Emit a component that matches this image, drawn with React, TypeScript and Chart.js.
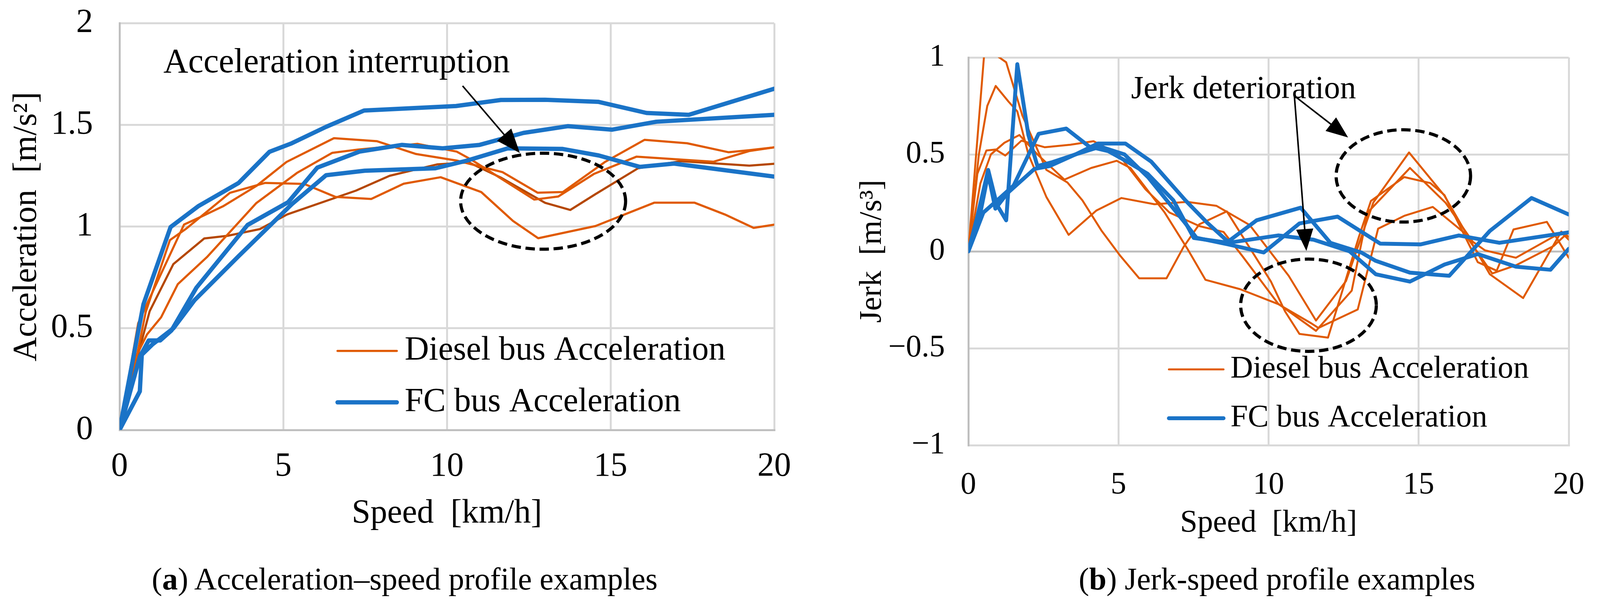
import React, { useEffect, useRef } from 'react';
import { Chart, registerables } from 'chart.js';

Chart.register(...registerables);

type Pt = [number, number];

// ---------- tick labels ----------
const speedTicks = [0, 5, 10, 15, 20];
const accelTicks = [0, 0.5, 1, 1.5, 2];
const jerkTicks = [-1, -0.5, 0, 0.5, 1];

// ---------- (a) acceleration vs speed ----------
const fcAccel1: Pt[] = [[0, 0], [0.73, 0.618], [1.56, 0.998], [2.4, 1.1], [3.64, 1.215], [4.58, 1.368], [5.26, 1.41], [6.3, 1.49], [7.47, 1.571], [10.28, 1.593], [11.65, 1.623], [13.0, 1.624], [14.62, 1.614], [16.1, 1.559], [17.39, 1.55], [20, 1.678]];
const fcAccel2: Pt[] = [[0, 0], [0.62, 0.36], [0.89, 0.44], [1.24, 0.44], [1.59, 0.49], [2.35, 0.7], [3.91, 1.008], [5.15, 1.12], [6.04, 1.29], [7.33, 1.369], [8.63, 1.402], [9.87, 1.385], [11.0, 1.402], [12.34, 1.461], [13.69, 1.494], [15.05, 1.477], [16.4, 1.516], [20, 1.55]];
const fcAccel3: Pt[] = [[0, 0], [0.62, 0.19], [0.68, 0.37], [1.0, 0.42], [1.645, 0.5], [2.29, 0.638], [3.64, 0.855], [5.26, 1.11], [6.31, 1.253], [7.49, 1.275], [9.65, 1.287], [10.62, 1.325], [11.86, 1.385], [13.54, 1.382], [14.64, 1.35], [15.89, 1.294], [16.94, 1.31], [20, 1.246]];
const dieselAccel1: Pt[] = [[0, 0], [0.57, 0.525], [0.84, 0.62], [1.97, 1.01], [2.51, 1.05], [3.16, 1.1], [4.18, 1.2], [5.1, 1.318], [6.55, 1.435], [7.87, 1.42], [9.06, 1.357], [10.3, 1.325], [11.7, 1.268], [12.77, 1.167], [13.54, 1.17], [14.84, 1.319], [16.04, 1.427], [17.34, 1.41], [18.6, 1.366], [19.24, 1.376], [20, 1.39]];
const dieselAccel2: Pt[] = [[0, 0], [0.5, 0.36], [0.84, 0.47], [1.27, 0.554], [1.78, 0.717], [2.67, 0.85], [4.18, 1.116], [5.42, 1.264], [6.5, 1.363], [7.28, 1.379], [9.11, 1.407], [10.3, 1.369], [10.73, 1.331], [12.67, 1.133], [13.4, 1.148], [14.49, 1.259], [15.79, 1.344], [18.14, 1.319], [19.24, 1.372], [20, 1.39]];
const dieselAccel3: Pt[] = [[0, 0], [0.45, 0.3], [0.8, 0.58], [1.54, 0.934], [2.02, 0.988], [3.37, 1.166], [4.45, 1.215], [5.64, 1.21], [6.6, 1.146], [7.69, 1.136], [8.68, 1.211], [9.81, 1.243], [11.05, 1.17], [12.02, 1.028], [12.79, 0.943], [14.54, 1.003], [16.34, 1.118], [17.56, 1.118], [18.49, 1.06], [19.37, 0.994], [20, 1.01]];
const dieselAccel4: Pt[] = [[0, 0], [0.45, 0.3], [0.92, 0.584], [1.645, 0.816], [2.59, 0.942], [3.3, 0.955], [4.29, 0.988], [5.12, 1.06], [7.22, 1.177], [8.25, 1.25], [9.7, 1.306], [10.67, 1.316], [11.64, 1.242], [13.0, 1.117], [13.77, 1.082], [14.54, 1.16], [15.84, 1.287], [17.14, 1.322], [19.24, 1.3], [20, 1.309]];

// ---------- (b) jerk vs speed ----------
const fcJerk1: Pt[] = [[0, 0], [0.3, 0.18], [0.66, 0.42], [0.95, 0.24], [1.26, 0.16], [1.63, 0.965], [2.0, 0.6], [2.3, 0.44], [2.8, 0.46], [3.57, 0.5], [4.31, 0.556], [5.23, 0.556], [6.09, 0.463], [7.23, 0.263], [7.94, 0.15], [8.65, 0.05], [9.6, 0.16], [11.07, 0.225], [12.06, 0.044], [13.09, -0.006], [13.57, -0.049], [14.71, -0.11], [16.02, -0.126], [17.37, 0.105], [18.76, 0.275], [20, 0.19]];
const fcJerk2: Pt[] = [[0, 0], [0.5, 0.2], [0.94, 0.26], [1.51, 0.34], [2.34, 0.606], [3.26, 0.633], [4.03, 0.54], [4.66, 0.517], [5.29, 0.463], [5.97, 0.4], [6.83, 0.263], [7.51, 0.069], [8.66, 0.044], [10.32, 0.082], [11.5, 0.06], [12.7, 0.0], [13.57, -0.118], [14.71, -0.156], [15.86, -0.068], [16.97, -0.014], [18.24, -0.079], [19.39, -0.095], [20, 0.013]];
const fcJerk3: Pt[] = [[0, 0], [0.3, 0.12], [0.66, 0.4], [0.9, 0.22], [1.3, 0.3], [2.2, 0.425], [2.71, 0.44], [3.57, 0.5], [4.4, 0.54], [5.2, 0.5], [6.0, 0.38], [7.2, 0.15], [7.6, 0.07], [8.65, 0.036], [9.84, -0.006], [11.03, 0.144], [12.3, 0.179], [13.72, 0.04], [15.07, 0.036], [16.34, 0.082], [17.69, 0.044], [20, 0.098]];
const dieselJerk1: Pt[] = [[0, 0], [0.57, 1.1], [0.85, 1.02], [1.26, 0.975], [1.8, 0.7], [2.6, 0.42], [3.3, 0.355], [3.8, 0.263], [4.43, 0.108], [5.06, -0.023], [5.69, -0.139], [6.6, -0.139], [7.17, 0.023], [7.69, 0.139], [8.61, 0.206], [10.08, -0.156], [10.55, -0.31], [11.03, -0.426], [11.98, -0.445], [13.01, 0.075], [13.41, 0.26], [14.52, 0.383], [15.39, 0.352], [15.86, 0.29], [16.97, -0.056], [17.6, -0.1], [18.16, 0.113], [19.27, 0.152], [20, -0.033]];
const dieselJerk2: Pt[] = [[0, 0], [0.35, 0.5], [0.63, 0.75], [0.91, 0.853], [1.34, 0.772], [1.63, 0.722], [2.0, 0.5], [2.6, 0.28], [3.34, 0.085], [4.26, 0.21], [5.1, 0.275], [6.2, 0.243], [7.29, 0.255], [8.26, 0.235], [9.37, 0.136], [10.67, -0.126], [11.58, -0.357], [12.58, -0.153], [13.49, 0.252], [14.68, 0.51], [15.86, 0.287], [17.37, -0.118], [18.48, -0.241], [19.75, 0.102], [20, 0.075]];
const dieselJerk3: Pt[] = [[0, 0], [0.3, 0.4], [0.6, 0.52], [0.91, 0.525], [1.23, 0.494], [1.77, 0.571], [2.54, 0.537], [3.4, 0.55], [4.17, 0.568], [5.0, 0.5], [5.9, 0.32], [6.7, 0.2], [7.7, 0.13], [8.5, 0.1], [9.13, -0.025], [10.32, -0.27], [11.58, -0.41], [12.77, -0.203], [13.3, 0.2], [14.71, 0.43], [15.9, 0.25], [16.8, 0.05], [17.21, 0.005], [18.24, -0.033], [19.75, 0.098], [20, 0.06]];
const dieselJerk4: Pt[] = [[0, 0], [0.4, 0.35], [0.75, 0.5], [1.2, 0.56], [1.7, 0.6], [2.3, 0.5], [3.2, 0.37], [4.09, 0.43], [4.94, 0.467], [5.4, 0.43], [6.54, 0.2], [7.29, 0.015], [7.9, -0.147], [9.05, -0.195], [10.32, -0.272], [11.43, -0.372], [11.66, -0.395], [12.97, -0.3], [13.65, 0.117], [14.52, 0.183], [15.47, 0.229], [16.5, 0.098], [17.45, -0.114], [18.24, -0.072], [19.5, 0.028], [20, 0.1]];

const legendLabels = ['Diesel bus Acceleration', 'FC bus Acceleration'];

// ---------- styles ----------
const FONT = '"Liberation Serif", "Times New Roman", serif';
const ORANGE = '#E05A00';
const DARK = '#B54700';
const BLUE = '#1A73C7';
const GRID = '#D9D9D9';
const AXIS = '#BFBFBF';

const annotPlugin = {
  id: 'annot',
  afterDatasetsDraw(chart: any, _args: any, opts: any) {
    const { ctx } = chart;
    const xs = chart.scales.x;
    const ys = chart.scales.y;
    const px = (u: number) => xs.getPixelForValue(u);
    const py = (v: number) => ys.getPixelForValue(v);
    ctx.save();
    // dashed ellipses
    ctx.strokeStyle = '#000';
    ctx.lineWidth = 8;
    ctx.setLineDash([24, 12]);
    for (const e of opts.ellipses || []) {
      const cx = px(e.cx);
      const cy = py(e.cy);
      const rx = Math.abs(px(e.cx + e.rx) - cx);
      const ry = Math.abs(py(e.cy + e.ry) - cy);
      ctx.beginPath();
      ctx.ellipse(cx, cy, rx, ry, 0, 0, Math.PI * 2);
      ctx.stroke();
    }
    ctx.setLineDash([]);
    // arrows
    for (const a of opts.arrows || []) {
      const x0 = px(a.x0), y0 = py(a.y0), x1 = px(a.x1), y1 = py(a.y1);
      const len = Math.hypot(x1 - x0, y1 - y0);
      const dx = (x1 - x0) / len, dy = (y1 - y0) / len;
      const L = opts.headLen, W = opts.headW;
      ctx.lineWidth = 4;
      ctx.beginPath();
      ctx.moveTo(x0, y0);
      ctx.lineTo(x1 - dx * L * 0.8, y1 - dy * L * 0.8);
      ctx.stroke();
      ctx.beginPath();
      ctx.moveTo(x1, y1);
      ctx.lineTo(x1 - dx * L - dy * W, y1 - dy * L + dx * W);
      ctx.lineTo(x1 - dx * L + dy * W, y1 - dy * L - dx * W);
      ctx.closePath();
      ctx.fillStyle = '#000';
      ctx.fill();
    }
    // annotation texts
    ctx.fillStyle = '#000';
    ctx.textAlign = 'left';
    ctx.textBaseline = 'alphabetic';
    ctx.font = `${opts.textSize}px ${FONT}`;
    for (const t of opts.texts || []) ctx.fillText(t.text, px(t.x), py(t.y));
    // legend
    const lg = opts.legend;
    ctx.font = `${lg.size}px ${FONT}`;
    ctx.textBaseline = 'middle';
    lg.rows.forEach((r: any) => {
      ctx.strokeStyle = r.color;
      ctx.lineWidth = r.width;
      ctx.lineCap = 'round';
      ctx.beginPath();
      ctx.moveTo(px(lg.x0), py(r.y));
      ctx.lineTo(px(lg.x1), py(r.y));
      ctx.stroke();
      ctx.fillStyle = '#000';
      ctx.fillText(r.text, px(lg.tx), py(r.y));
    });
    ctx.restore();
  },
};

function ds(pts: Pt[], color: string, width: number) {
  return {
    data: pts.map(([x, y]) => ({ x, y })),
    borderColor: color,
    backgroundColor: color,
    borderWidth: width,
    pointRadius: 0,
    tension: 0,
    fill: false,
    borderJoinStyle: 'round' as const,
    borderCapStyle: 'round' as const,
  };
}

function fmt(v: number) {
  return v < 0 ? '\u2212' + String(Math.abs(v)) : String(v);
}

function ChartCanvas({ config, width, height, left, top }: any) {
  const ref = useRef<HTMLCanvasElement>(null);
  useEffect(() => {
    const chart = new Chart(ref.current as HTMLCanvasElement, config);
    return () => chart.destroy();
  }, []);
  return (
    <canvas
      ref={ref}
      width={width}
      height={height}
      style={{ position: 'absolute', left, top, width, height }}
    />
  );
}

function makeConfig(p: any) {
  const font = { family: FONT, size: p.fs };
  return {
    type: 'line',
    data: { datasets: p.datasets },
    plugins: [annotPlugin],
    options: {
      responsive: false,
      devicePixelRatio: 1,
      animation: false,
      events: [],
      layout: { padding: p.padding },
      plugins: {
        legend: { display: false },
        tooltip: { enabled: false },
        annot: p.annot,
      },
      scales: {
        x: {
          type: 'linear',
          min: 0,
          max: 20,
          afterBuildTicks: (s: any) => { s.ticks = speedTicks.map((v) => ({ value: v })); },
          ticks: { font, color: '#000', padding: p.xTickPad, maxRotation: 0, autoSkip: false, callback: (v: number) => fmt(v) },
          grid: { color: GRID, lineWidth: 5, drawTicks: false },
          border: { color: p.xBorder, width: 5 },
          title: { display: true, text: 'Speed  [km/h]', font, color: '#000', padding: { top: 0, bottom: p.xTitlePad } },
          afterFit: (s: any) => { s.height = p.xHeight; },
        },
        y: {
          type: 'linear',
          min: p.yTicks[0],
          max: p.yTicks[p.yTicks.length - 1],
          afterBuildTicks: (s: any) => { s.ticks = p.yTicks.map((v: number) => ({ value: v })); },
          ticks: { font, color: '#000', padding: p.yTickPad, callback: (v: number) => fmt(v) },
          grid: {
            color: (c: any) => (c.tick && c.tick.value === 0 && p.zeroDark ? AXIS : GRID),
            lineWidth: 5,
            drawTicks: false,
          },
          border: { color: AXIS, width: 5 },
          title: { display: true, text: p.yTitle, font, color: '#000', padding: { top: p.yTitlePad, bottom: 0 } },
          afterFit: (s: any) => { s.width = p.yWidth; },
        },
      },
    },
  };
}

const accelConfig = makeConfig({
  fs: 86,
  datasets: [
    ds(fcAccel1, BLUE, 11),
    ds(fcAccel2, BLUE, 11),
    ds(fcAccel3, BLUE, 11),
    ds(dieselAccel1, ORANGE, 5.5),
    ds(dieselAccel2, ORANGE, 5.5),
    ds(dieselAccel3, ORANGE, 5.5),
    ds(dieselAccel4, DARK, 5.5),
  ],
  padding: { left: 0, top: 100, right: 118, bottom: 0 },
  yTicks: accelTicks,
  yTitle: 'Acceleration  [m/s\u00B2]',
  yWidth: 306,
  yTickPad: 68,
  yTitlePad: 18,
  xHeight: 340,
  xTickPad: 43,
  xTitlePad: 74,
  xBorder: AXIS,
  zeroDark: false,
  annot: {
    textSize: 88,
    headLen: 62,
    headW: 24,
    texts: [{ text: 'Acceleration interruption', x: 1.34, y: 1.758 }],
    arrows: [{ x0: 10.48, y0: 1.692, x1: 12.23, y1: 1.362 }],
    ellipses: [{ cx: 12.94, cy: 1.125, rx: 2.52, ry: 0.236 }],
    legend: {
      size: 86,
      x0: 6.66,
      x1: 8.47,
      tx: 8.71,
      rows: [
        { text: legendLabels[0], color: ORANGE, width: 5.5, y: 0.389 },
        { text: legendLabels[1], color: BLUE, width: 11, y: 0.136 },
      ],
    },
  },
});

const jerkConfig = makeConfig({
  fs: 80,
  datasets: [
    ds(fcJerk1, BLUE, 10),
    ds(fcJerk2, BLUE, 10),
    ds(fcJerk3, BLUE, 10),
    ds(dieselJerk1, ORANGE, 5),
    ds(dieselJerk2, ORANGE, 5),
    ds(dieselJerk3, ORANGE, 5),
    ds(dieselJerk4, ORANGE, 5),
  ],
  padding: { left: 0, top: 207, right: 70, bottom: 0 },
  yTicks: jerkTicks,
  yTitle: 'Jerk  [m/s\u00B3]',
  yWidth: 379,
  yTickPad: 60,
  yTitlePad: 86,
  xHeight: 301,
  xTickPad: 55,
  xTitlePad: 53,
  xBorder: GRID,
  zeroDark: true,
  annot: {
    textSize: 82,
    headLen: 56,
    headW: 22,
    texts: [{ text: 'Jerk deterioration', x: 5.42, y: 0.79 }],
    arrows: [
      { x0: 10.86, y0: 0.802, x1: 11.26, y1: 0.002 },
      { x0: 10.86, y0: 0.802, x1: 12.65, y1: 0.587 },
    ],
    ellipses: [
      { cx: 14.49, cy: 0.389, rx: 2.24, ry: 0.238 },
      { cx: 11.33, cy: -0.278, rx: 2.26, ry: 0.238 },
    ],
    legend: {
      size: 80,
      x0: 6.68,
      x1: 8.5,
      tx: 8.73,
      rows: [
        { text: legendLabels[0], color: ORANGE, width: 5, y: -0.609 },
        { text: legendLabels[1], color: BLUE, width: 10, y: -0.861 },
      ],
    },
  },
});

const captionStyle: React.CSSProperties = {
  position: 'absolute',
  top: 1441,
  transform: 'translateX(-50%)',
  whiteSpace: 'nowrap',
  fontFamily: FONT,
  fontSize: 80,
  lineHeight: '80px',
  color: '#000',
};

export default function App() {
  return (
    <div style={{ position: 'absolute', left: 0, top: 0, width: 4111, height: 1558, background: '#fff', overflow: 'hidden' }}>
      <ChartCanvas config={accelConfig} width={2100} height={1500} left={0} top={-60} />
      <ChartCanvas config={jerkConfig} width={2011} height={1500} left={2100} top={-60} />
      <div style={{ ...captionStyle, left: 1036 }}>
        (<b>a</b>) Acceleration–speed profile examples
      </div>
      <div style={{ ...captionStyle, left: 3269 }}>
        (<b>b</b>) Jerk-speed profile examples
      </div>
    </div>
  );
}
